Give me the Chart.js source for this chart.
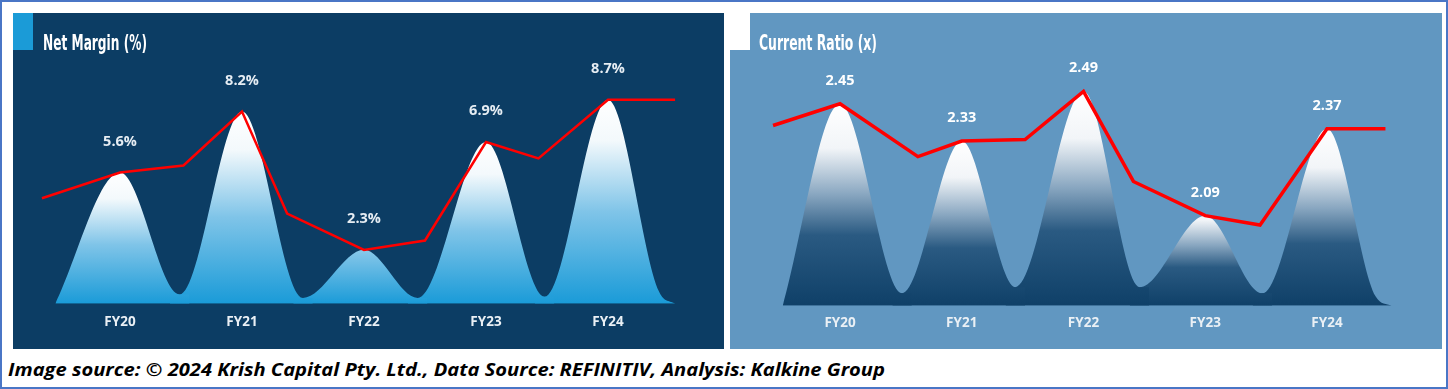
<!DOCTYPE html>
<html>
<head>
<meta charset="utf-8">
<script src="https://cdn.jsdelivr.net/npm/chart.js@4.4.1/dist/chart.umd.min.js"></script>
<style>
  body { margin: 0; width: 1448px; height: 389px; overflow: hidden; background: #fff; position: relative; }
  #frame { position: absolute; left: 0; top: 0; width: 1444px; height: 385px; border: 2px solid #4a76c6; }
  .panel { position: absolute; top: 13px; height: 336px; }
  #left { left: 13px; width: 711px; background: #0c3d64; }
  #right { left: 730px; width: 712px; background: #6197c1; }
  .tag { position: absolute; left: 0; top: 0; width: 20px; height: 37px; }
  .title { position: absolute; top: 18px; color: #fff; font: bold 21px "DejaVu Sans Condensed", "DejaVu Sans", sans-serif;
           line-height: 24px; white-space: nowrap; transform-origin: left center; }
  canvas { position: absolute; left: 0; top: 0; }
  #caption { position: absolute; left: 8px; top: 357px; font: italic 700 18px "Open Sans", sans-serif; line-height: 24px;
             color: #000; white-space: nowrap; transform-origin: left center; }
</style>
</head>
<body>
<div id="frame"></div>
<div class="panel" id="left">
  <canvas id="marginChart" width="711" height="336"></canvas>
  <div class="tag" style="background:#1b9bd7"></div>
  <div class="title" id="marginTitle" style="left:30px">Net Margin (%)</div>
</div>
<div class="panel" id="right">
  <canvas id="ratioChart" width="712" height="336"></canvas>
  <div class="tag" style="background:#fff"></div>
  <div class="title" id="ratioTitle" style="left:29px">Current Ratio (x)</div>
</div>
<div id="caption">Image source: © 2024 Krish Capital Pty. Ltd., Data Source: REFINITIV, Analysis: Kalkine Group</div>

<script>
const years = ['FY20', 'FY21', 'FY22', 'FY23', 'FY24'];
const netMargin = [5.6, 8.2, 2.3, 6.9, 8.7];
const currentRatio = [2.45, 2.33, 2.49, 2.09, 2.37];

// red trend lines (x in year slots, 0 = FY20)
const marginLineX = [-0.64, 0, 0.52, 1, 1.37, 2, 2.5, 3, 3.43, 4, 4.55];
const marginLineY = [4.5, 5.6, 5.9, 8.2, 3.85, 2.3, 2.7, 6.9, 6.2, 8.7, 8.7];
const ratioLineX = [-0.55, 0, 0.64, 1, 1.52, 2, 2.41, 3, 3.45, 4, 4.48];
const ratioLineY = [2.38, 2.45, 2.28, 2.33, 2.335, 2.49, 2.2, 2.09, 2.06, 2.37, 2.37];

// valley floors around the peaks
const marginValleyX = [-0.53, 0.49, 1.5, 2.44, 3.48, 4.42];
const marginValleyY = [0, 0.4, 0.25, 0.25, 0.3, 0.5];
const ratioValleyX = [-0.47, 0.51, 1.44, 2.46, 3.47, 4.4];
const ratioValleyY = [1.8, 1.84, 1.86, 1.86, 1.84, 1.83];

function fitWidth(id, width) {
  const el = document.getElementById(id);
  const w = el.getBoundingClientRect().width;
  el.style.transform = 'scaleX(' + (width / w) + ')';
}
fitWidth('marginTitle', 104);
fitWidth('ratioTitle', 118);
fitWidth('caption', 877);

function peakFill(stops, value) {
  return function (context) {
    const chart = context.chart;
    const area = chart.chartArea;
    if (!area) return stops[stops.length - 1][1];
    const top = chart.scales.y.getPixelForValue(value);
    const start = Math.min(top, area.bottom - 110);
    const g = chart.ctx.createLinearGradient(0, start, 0, area.bottom);
    stops.forEach(s => g.addColorStop(s[0], s[1]));
    return g;
  };
}

function peakDatasets(values, valleyX, valleyY, yMin, stops) {
  return values.map((v, i) => {
    const pts = [];
    if (i > 0) pts.push({ x: valleyX[i] - 0.08, y: valleyY[i] });
    pts.push({ x: valleyX[i], y: valleyY[i] });
    pts.push({ x: i, y: v });
    pts.push({ x: valleyX[i + 1], y: valleyY[i + 1] });
    if (i < values.length - 1) pts.push({ x: valleyX[i + 1] + 0.08, y: valleyY[i + 1] });
    else pts.push({ x: valleyX[i + 1] + 0.13, y: yMin });
    return {
      data: pts,
      borderWidth: 0,
      pointRadius: 0,
      fill: 'start',
      cubicInterpolationMode: 'monotone',
      backgroundColor: peakFill(stops, v)
    };
  });
}

function valueLabels(values, fmt, lift, color) {
  return {
    id: 'valueLabels',
    afterDatasetsDraw(chart) {
      const c = chart.ctx;
      c.save();
      c.font = 'bold 14.5px "Open Sans", sans-serif';
      c.fillStyle = color;
      c.textAlign = 'center';
      c.textBaseline = 'middle';
      values.forEach((v, i) => {
        const x = chart.scales.x.getPixelForValue(i);
        const y = chart.scales.y.getPixelForValue(v);
        c.fillText(fmt(v), x, y - lift);
      });
      c.restore();
    }
  };
}

function makeChart(id, cfg) {
  const lineData = cfg.lineX.map((x, i) => ({ x: x, y: cfg.lineY[i] }));
  return new Chart(document.getElementById(id), {
    type: 'line',
    data: {
      datasets: [{
        data: lineData,
        borderColor: '#ff0000',
        borderWidth: cfg.lineWidth,
        pointRadius: 0,
        fill: false,
        tension: 0
      }].concat(peakDatasets(cfg.values, cfg.valleyX, cfg.valleyY, cfg.yMin, cfg.stops))
    },
    options: {
      responsive: false,
      animation: false,
      layout: { padding: cfg.padding },
      plugins: { legend: { display: false }, tooltip: { enabled: false } },
      scales: {
        x: {
          type: 'linear',
          min: -0.75,
          max: 4.8,
          grid: { display: false, drawTicks: false },
          border: { display: false },
          afterBuildTicks: s => { s.ticks = years.map((_, i) => ({ value: i })); },
          ticks: {
            color: '#eaf0f5',
            maxRotation: 0,
            autoSkip: false,
            padding: cfg.tickPad,
            font: { family: '"Open Sans"', weight: 'bold', size: 13.5 },
            callback: v => years[v] || ''
          }
        },
        y: { display: false, min: cfg.yMin, max: cfg.yMax }
      }
    },
    plugins: [valueLabels(cfg.values, cfg.fmt, cfg.lift, cfg.labelColor)]
  });
}

makeChart('marginChart', {
  values: netMargin,
  lineX: marginLineX, lineY: marginLineY,
  valleyX: marginValleyX, valleyY: marginValleyY,
  yMin: 0, yMax: 12.4,
  stops: [[0, '#ffffff'], [0.2, '#f3f9fc'], [0.55, '#7fc4e8'], [1, '#1a9bd8']],
  padding: { left: 15.5, right: 18.4, top: 0, bottom: 9 },
  tickPad: 10,
  lineWidth: 2.5,
  fmt: v => v.toFixed(1) + '%',
  lift: 31,
  labelColor: '#e6edf3'
});

makeChart('ratioChart', {
  values: currentRatio,
  lineX: ratioLineX, lineY: ratioLineY,
  valleyX: ratioValleyX, valleyY: ratioValleyY,
  yMin: 1.8, yMax: 2.742,
  stops: [[0, '#ffffff'], [0.22, '#f2f5f8'], [0.45, '#88a6c0'], [0.65, '#2a5a82'], [1, '#0f4068']],
  padding: { left: 18.7, right: 17.6, top: 0, bottom: 9 },
  tickPad: 9,
  lineWidth: 3.5,
  fmt: v => v.toFixed(2),
  lift: 23,
  labelColor: '#ffffff'
});
</script>
</body>
</html>
